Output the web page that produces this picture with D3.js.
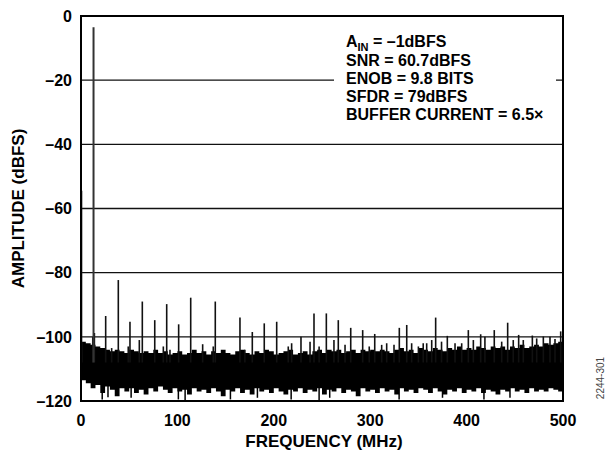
<!DOCTYPE html>
<html>
<head>
<meta charset="utf-8">
<script src="https://cdn.jsdelivr.net/npm/d3@7"></script>
<style>
  body { margin: 0; background: #fff; }
  text { font-family: "Liberation Sans", Arial, Helvetica, sans-serif; font-weight: bold; fill: #000; }
</style>
</head>
<body>
<svg id="chart" width="609" height="450"></svg>
<script>
// ---- axis ticks ----
const freqTicks = [0, 100, 200, 300, 400, 500];
const ampTicks = [0, -20, -40, -60, -80, -100, -120];

// ---- noise floor envelope (dBFS), one value every 5 MHz from 0 to 500 MHz ----
const floorStepMHz = 5;
const floorUpper = [
  -101.5, -102, -102.5, -103, -103.5, -104, -104.5, -104, -104.5, -105,
  -104, -104.5, -105, -104.5, -105, -104, -105, -104.5, -105.5, -105,
  -104.5, -105.5, -105, -104, -105, -104.5, -105.5, -104.5, -105, -104,
  -105, -105.5, -104.5, -104, -105, -105.5, -104.5, -105, -104, -104.5,
  -105.5, -105, -104.5, -104, -105.5, -105, -104.5, -105.5, -104.5, -104,
  -105, -104, -104.5, -104, -105, -104.5, -104, -105, -104, -104.5,
  -104, -104.5, -104, -104.5, -105, -104, -103.5, -104.5, -104, -105,
  -103.5, -104, -104.5, -103.5, -104, -104.5, -103.5, -104, -103, -104,
  -103.5, -104, -103, -103.5, -104, -103, -103.5, -103, -104, -103,
  -103.5, -102.5, -103.5, -103, -102.5, -103, -102, -102.5, -102, -101.5,
  -101
];
const floorLower = [
  -113.5, -114.5, -116, -115, -117.5, -115.5, -116.5, -118.5, -116, -117,
  -116, -117.5, -116.5, -118, -116, -117, -115.5, -116.5, -117.5, -116,
  -117, -116.5, -118, -116, -117, -116.5, -117.5, -116, -117, -118.5,
  -116.5, -117, -116, -117.5, -116.5, -118, -116, -117, -116.5, -117.5,
  -116, -117, -118, -116.5, -117, -116, -117.5, -116.5, -117, -116,
  -118, -116.5, -117, -116, -117.5, -116.5, -117, -118.5, -116, -117,
  -116.5, -117.5, -116, -117, -116.5, -118, -116, -117, -116.5, -117.5,
  -116, -116.5, -117.5, -116, -117, -118, -116.5, -117, -116, -117.5,
  -116.5, -117, -116, -117.5, -116.5, -117, -118, -116.5, -117, -116,
  -117, -116.5, -117.5, -116, -117, -116.5, -117, -116, -116.5, -117,
  -116
];

// ---- downward noise excursions [MHz, dBFS] ----
const floorDips = [
  [22, -119.5], [28, -118.8], [52, -119], [101, -119.5], [108, -120],
  [155, -119.5], [183, -119], [218, -119.5], [247, -119.8], [258, -119],
  [330, -119.5], [375, -119], [418, -119.5], [445, -119]
];

// ---- fundamental and DC bin [MHz, dBFS] ----
const fundamental = [13.0, -3.5];
const dcBin = [0.6, -54.5];

// ---- harmonics and spurs above the floor [MHz, dBFS] ----
const spurs = [
  [12.2, -100], [13.9, -98.8],
  [25.6, -93.5], [38.7, -82.3], [50.8, -95.3], [63.6, -89], [76.5, -94.8],
  [88.9, -89.8], [101.3, -96.1], [113.8, -87.8], [126.2, -102.3], [139.3, -89],
  [164.9, -94], [177.7, -98.5], [190.1, -95.8], [203.0, -95.3], [228.2, -100],
  [241.7, -92.7], [254.5, -92.7], [266.9, -94.8], [279.8, -97.2], [292.2, -97.9],
  [304.7, -99.1], [330.2, -97.2], [337.9, -96.3], [367.9, -94], [380, -99.7],
  [401.8, -97.9], [414.6, -99.2], [428.7, -97.9], [442.6, -95.6], [454, -99.4],
  [468.2, -99.6], [479.6, -99.9], [491.7, -100.7], [497.6, -98.3]
];

// ---- small spurs just above the floor [MHz, dBFS] ----
const minorSpurs = [
  [31.8, -103.5], [49, -103], [60.5, -101], [85.4, -103], [92.3, -104],
  [137.2, -103], [170, -104], [215, -103], [218.5, -102], [237.6, -101.5],
  [247, -103], [262.4, -101], [273.9, -102.5], [299, -103], [311.9, -102.5],
  [317.1, -102], [324.7, -102.5], [343, -102], [350, -103], [355, -102],
  [358.6, -102], [363.8, -101], [374, -101.5], [388, -102], [394.9, -102],
  [407, -101], [419, -100], [436.4, -101.5], [448.4, -101], [458.8, -101],
  [472.7, -100.5], [486.5, -100]
];

// ---- annotation lines ----
const notes = ["SNR = 60.7dBFS", "ENOB = 9.8 BITS", "SFDR = 79dBFS", "BUFFER CURRENT = 6.5\u00d7"];

const fmtAmp = v => (v < 0 ? "\u2013" + Math.abs(v) : String(v));

const svg = d3.select("#chart");
const plotL = 81, plotR = 563, plotT = 16, plotB = 401;

const x = d3.scaleLinear().domain([0, 500]).range([plotL, plotR]);
const y = d3.scaleLinear().domain([-120, 0]).range([plotB, plotT]);

svg.append("defs").append("clipPath").attr("id", "plotClip")
  .append("rect").attr("x", plotL).attr("y", plotT)
  .attr("width", plotR - plotL).attr("height", plotB - plotT);

// horizontal grid
svg.append("g").selectAll("line")
  .data(ampTicks.filter(v => v > -120 && v < 0))
  .join("line")
  .attr("x1", plotL).attr("x2", plotR)
  .attr("y1", d => y(d)).attr("y2", d => y(d))
  .attr("stroke", "#111").attr("stroke-width", 1.4);

const plot = svg.append("g").attr("clip-path", "url(#plotClip)");

// noise floor band
const floorPts = floorUpper.map((u, i) => ({ f: i * floorStepMHz, hi: u, lo: floorLower[i] }));
plot.append("path")
  .datum(floorPts)
  .attr("d", d3.area()
    .x(d => x(d.f))
    .y0(d => y(d.lo))
    .y1(d => y(d.hi))
    .curve(d3.curveStepAfter))
  .attr("fill", "#000");

// dips below the floor
plot.append("g").selectAll("line")
  .data(floorDips)
  .join("line")
  .attr("x1", d => x(d[0])).attr("x2", d => x(d[0]))
  .attr("y1", y(-115)).attr("y2", d => y(d[1]))
  .attr("stroke", "#000").attr("stroke-width", 1.5);

// spurs
plot.append("g").selectAll("line")
  .data(spurs.concat(minorSpurs))
  .join("line")
  .attr("x1", d => x(d[0])).attr("x2", d => x(d[0]))
  .attr("y1", y(-108)).attr("y2", d => y(d[1]))
  .attr("stroke", "#111").attr("stroke-width", 1.6);

// DC bin
plot.append("line")
  .attr("x1", x(dcBin[0])).attr("x2", x(dcBin[0]))
  .attr("y1", y(-108)).attr("y2", y(dcBin[1]))
  .attr("stroke", "#222").attr("stroke-width", 1.5);

// fundamental
plot.append("line")
  .attr("x1", x(fundamental[0])).attr("x2", x(fundamental[0]))
  .attr("y1", y(-108)).attr("y2", y(fundamental[1]))
  .attr("stroke", "#333").attr("stroke-width", 2);

// plot frame
svg.append("rect")
  .attr("x", plotL).attr("y", plotT)
  .attr("width", plotR - plotL).attr("height", plotB - plotT)
  .attr("fill", "none").attr("stroke", "#000").attr("stroke-width", 2);

// y tick labels
svg.append("g").selectAll("text")
  .data(ampTicks)
  .join("text")
  .attr("x", 72).attr("y", d => y(d))
  .attr("dy", "0.36em")
  .attr("text-anchor", "end")
  .attr("font-size", 16)
  .text(fmtAmp);

// x tick labels
svg.append("g").selectAll("text")
  .data(freqTicks)
  .join("text")
  .attr("x", d => x(d)).attr("y", 425.5)
  .attr("text-anchor", "middle")
  .attr("font-size", 16)
  .text(d => d);

// axis titles
svg.append("text")
  .attr("transform", `translate(24,${(plotT + plotB) / 2}) rotate(-90)`)
  .attr("text-anchor", "middle")
  .attr("font-size", 17)
  .text("AMPLITUDE (dBFS)");

svg.append("text")
  .attr("x", (plotL + plotR) / 2 + 2).attr("y", 447)
  .attr("text-anchor", "middle")
  .attr("font-size", 17)
  .text("FREQUENCY (MHz)");

// figure number
svg.append("text")
  .attr("transform", "translate(604,378) rotate(-90)")
  .attr("text-anchor", "middle")
  .attr("font-size", 10)
  .style("font-weight", "normal")
  .style("fill", "#444")
  .text("2244-301");

// annotation block
const note = svg.append("g");
note.append("rect")
  .attr("x", 334).attr("y", 28).attr("width", 222).attr("height", 100)
  .attr("fill", "#fff");
const ain = note.append("text").attr("x", 346).attr("y", 47).attr("font-size", 16);
ain.append("tspan").text("A");
ain.append("tspan").attr("font-size", 11).attr("dy", 4).text("IN");
ain.append("tspan").attr("dy", -4).text(" = \u20131dBFS");
note.selectAll("text.line")
  .data(notes)
  .join("text")
  .attr("class", "line")
  .attr("x", 346).attr("y", (d, i) => 65.5 + i * 18.3)
  .attr("font-size", 16)
  .text(d => d);
</script>
</body>
</html>
